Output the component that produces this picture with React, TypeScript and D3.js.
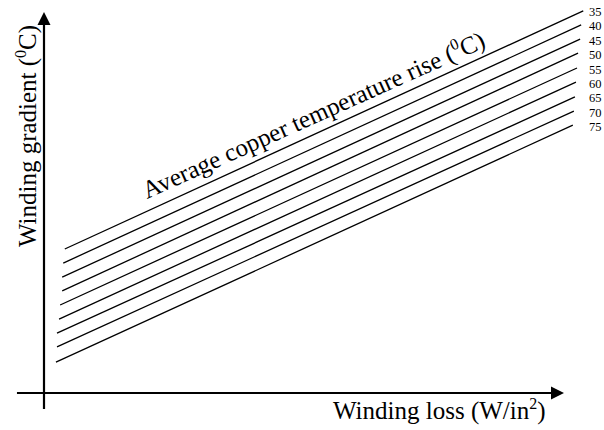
import React from 'react';
import * as d3 from 'd3';

// average copper temperature rise (°C), one line each
const temps = [35, 40, 45, 50, 55, 60, 65, 70, 75];
// winding loss (arbitrary units) at the two ends of each line
const lossStart = [0.40, 0.37, 0.35, 0.35, 0.31, 0.29, 0.25, 0.25, 0.23];
const lossEnd = [10.37, 10.33, 10.31, 10.27, 10.25, 10.23, 10.21, 10.19, 10.17];
// winding gradient (arbitrary units) at the two ends
const gradStart = [3.78, 3.41, 3.04, 2.68, 2.31, 1.94, 1.57, 1.21, 0.81];
const gradEnd = [10.03, 9.66, 9.29, 8.92, 8.53, 8.16, 7.77, 7.40, 7.03];

const W = 604, H = 430;
const serif = '"Liberation Serif", "Times New Roman", serif';

export default function App() {
  const x = d3.scaleLinear().domain([0, 10]).range([44, 564]);
  const y = d3.scaleLinear().domain([0, 10]).range([393, 12]);
  const line = d3.line<[number, number]>().x(d => x(d[0])).y(d => y(d[1]));

  // slope of the family in screen space, for the slanted caption
  const ang = Math.atan2(y(gradEnd[0]) - y(gradStart[0]), x(lossEnd[0]) - x(lossStart[0])) * 180 / Math.PI;

  const ox = x(0), oy = y(0), tx = x(10), ty = y(10);

  return (
    <svg width={W} height={H} style={{ position: 'absolute', left: 0, top: 0, background: '#fff' }}>
      {/* axes with arrow heads */}
      <line x1={x(-0.52)} y1={oy} x2={tx - 6} y2={oy} stroke="#000" strokeWidth={2.2} />
      <path d={`M${tx - 13},${oy - 6.5} L${tx},${oy} L${tx - 13},${oy + 6.5} z`} fill="#000" />
      <line x1={ox} y1={y(-0.42)} x2={ox} y2={ty + 6} stroke="#000" strokeWidth={2.2} />
      <path d={`M${ox - 6.5},${ty + 13} L${ox},${ty} L${ox + 6.5},${ty + 13} z`} fill="#000" />

      {temps.map((t, i) => (
        <g key={t}>
          <path d={line([[lossStart[i], gradStart[i]], [lossEnd[i], gradEnd[i]]]) || ''} stroke="#000" strokeWidth={1.3} fill="none" />
          <text x={589} y={y(gradEnd[i]) + 5.5} fontFamily={serif} fontSize={12.5}>{t}</text>
        </g>
      ))}

      <text transform={`translate(147,199) rotate(${ang + 0.5})`} fontFamily={serif} fontSize={25}>
        Average copper temperature rise (<tspan dy={-10} fontSize={16}>0</tspan><tspan dy={10}>C)</tspan>
      </text>

      <text transform={`translate(36,136) rotate(-90)`} textAnchor="middle" fontFamily={serif} fontSize={25}>
        Winding gradient (<tspan dy={-10} fontSize={16}>0</tspan><tspan dy={10}>C)</tspan>
      </text>

      <text x={333} y={419} fontFamily={serif} fontSize={25}>
        Winding loss (W/in<tspan dy={-10} fontSize={16}>2</tspan><tspan dy={10}>)</tspan>
      </text>
    </svg>
  );
}
